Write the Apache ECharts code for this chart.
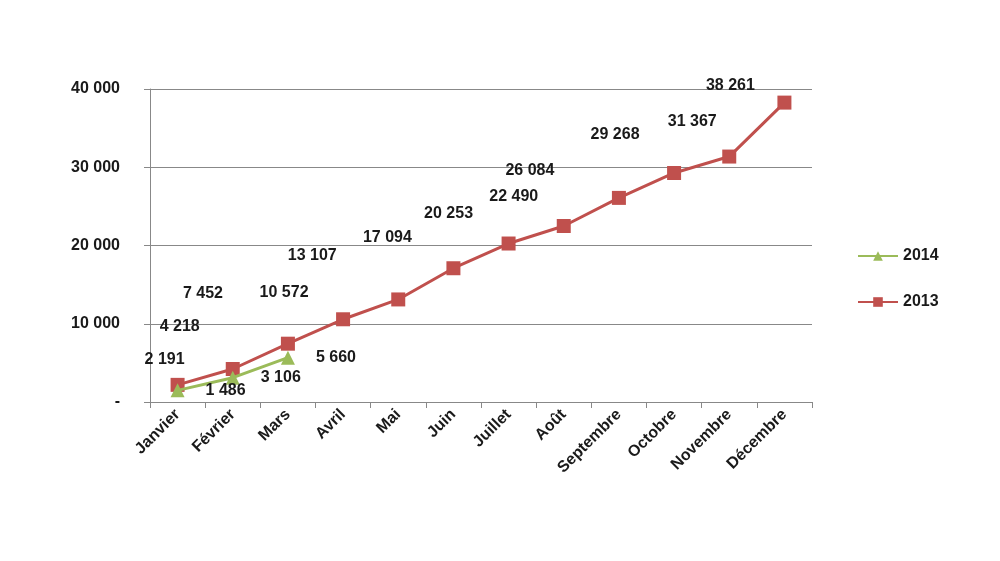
<!DOCTYPE html>
<html><head><meta charset="utf-8">
<script src="https://cdn.jsdelivr.net/npm/echarts@6/dist/echarts.min.js"></script>
<style>html,body{margin:0;background:#fff}#c{width:1000px;height:561px}</style>
</head><body><div id="c"></div>
<script>
const categories = ['Janvier','Février','Mars','Avril','Mai','Juin','Juillet','Août','Septembre','Octobre','Novembre','Décembre'];
const values2013 = [2191,4218,7452,10572,13107,17094,20253,22490,26084,29268,31367,38261];
const values2014 = [1486,3106,5660];
const labelOffsets2013 = [[-13,-25],[-53,-42],[-85,-50],[-59,-27],[-86,-44],[-66,-31],[-60,-30],[-50,-29],[-89,-27],[-59,-38],[-37,-35],[-54,-17]];
const fmt = v => v === 0 ? '-' : String(v).replace(/\B(?=(\d{3})+(?!\d))/g, ' ');
const font = {fontFamily:'Liberation Sans', fontWeight:'bold', fontSize:16, color:'#1a1a1a'};
const chart = echarts.init(document.getElementById('c'));
chart.setOption({
  animation:false,
  grid:{left:150,right:188,top:89,bottom:159},
  legend:{orient:'vertical',left:852,top:243,itemGap:30,itemWidth:40,itemHeight:12,
    textStyle:Object.assign({},font),data:['2014','2013']},
  xAxis:{type:'category',data:categories,boundaryGap:true,
    axisLine:{lineStyle:{color:'#888'}},axisTick:{show:true,length:6,lineStyle:{color:'#888'}},
    axisLabel:Object.assign({rotate:45,interval:0,margin:10},font)},
  yAxis:{type:'value',min:0,max:40000,interval:10000,
    axisLine:{show:true,lineStyle:{color:'#888'}},axisTick:{show:true,length:6,lineStyle:{color:'#888'}},
    splitLine:{lineStyle:{color:'#888'}},
    axisLabel:Object.assign({formatter:fmt,margin:30},font)},
  series:[
    {name:'2014',type:'line',data:values2014,symbol:'triangle',symbolSize:14,
      lineStyle:{color:'#9BBB59',width:3},itemStyle:{color:'#9BBB59'},z:3,
      label:Object.assign({show:true,position:'right',offset:[16,0],formatter:p=>fmt(p.value)},font)},
    {name:'2013',type:'line',symbol:'rect',symbolSize:14,
      data:values2013.map((v,i)=>({value:v,label:{offset:labelOffsets2013[i]}})),
      lineStyle:{color:'#C0504D',width:3},itemStyle:{color:'#C0504D'},z:2,
      label:Object.assign({show:true,position:'inside',formatter:p=>fmt(p.value)},font)}
  ]
});
</script></body></html>
